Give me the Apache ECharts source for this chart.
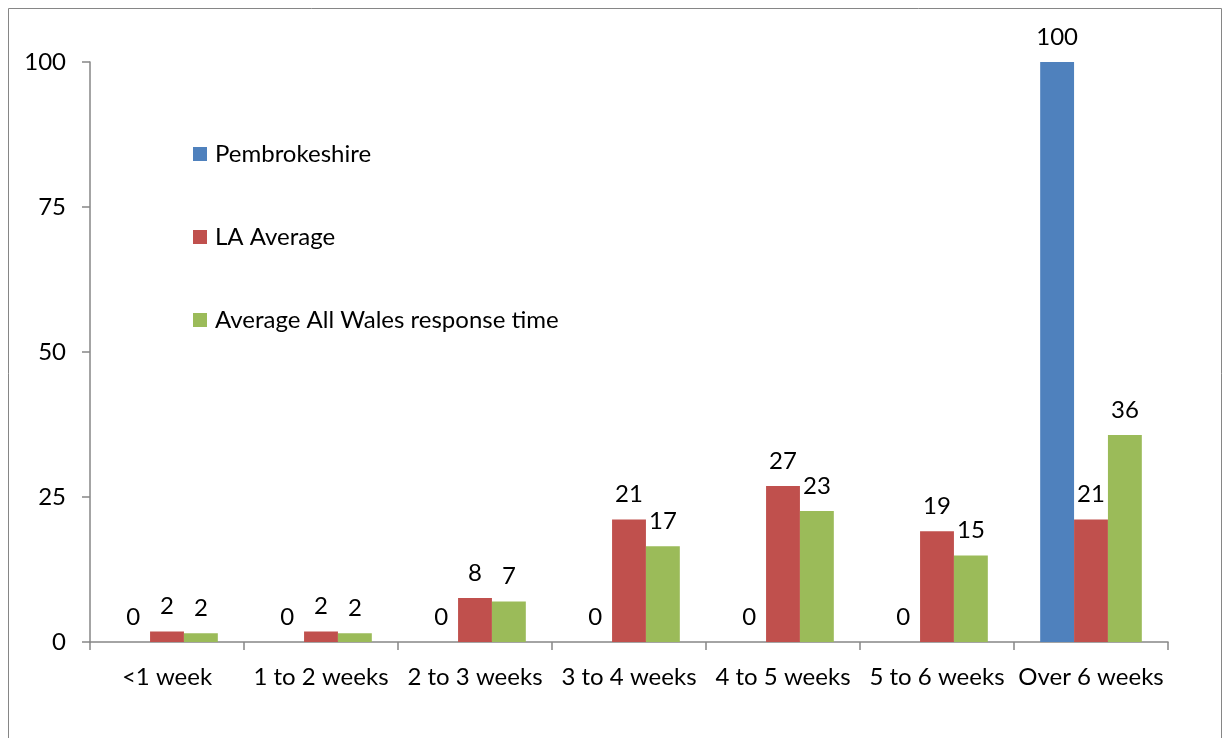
<!DOCTYPE html>
<html>
<head>
<meta charset="utf-8">
<script src="https://cdn.jsdelivr.net/npm/echarts@6/dist/echarts.min.js"></script>
<style>
  html, body { margin: 0; padding: 0; background: #fff; }
  #chart { width: 1223px; height: 738px; }
</style>
</head>
<body>
<div id="chart"></div>
<script>
// Response time bands (% of responses)
const categories = ['<1 week', '1 to 2 weeks', '2 to 3 weeks', '3 to 4 weeks', '4 to 5 weeks', '5 to 6 weeks', 'Over 6 weeks'];
const pembrokeshire = [0, 0, 0, 0, 0, 0, 100];
const laAverage = [1.8, 1.8, 7.6, 21.1, 26.9, 19.1, 21.1];
const allWales = [1.5, 1.5, 7.0, 16.5, 22.6, 14.9, 35.7];
const yTicks = [0, 25, 50, 75, 100];

const FONT = 'Lato, "Open Sans", sans-serif';
const FONT_SIZE = 24;
const AXIS_GREY = '#868686';

function barSeries(name, data, color) {
  return {
    name: name,
    type: 'bar',
    data: data,
    barGap: '0%',
    barCategoryGap: '34%',
    itemStyle: { color: color },
    label: {
      show: true,
      position: 'top',
      distance: 13,
      color: '#000',
      fontFamily: FONT,
      fontSize: FONT_SIZE,
      formatter: p => String(Math.round(p.value))
    }
  };
}

const chart = echarts.init(document.getElementById('chart'), null, { renderer: 'canvas' });
chart.setOption({
  backgroundColor: '#fff',
  animation: false,
  textStyle: { fontFamily: FONT },
  graphic: [{
    type: 'rect',
    shape: { x: 8.5, y: 8.5, width: 1213, height: 760 },
    style: { fill: 'none', stroke: AXIS_GREY, lineWidth: 1 },
    silent: true
  }],
  grid: { left: 90, right: 55, top: 62, bottom: 96, containLabel: false },
  legend: {
    orient: 'vertical',
    left: 193,
    top: 142,
    padding: 0,
    itemWidth: 14,
    itemHeight: 14,
    itemGap: 59,
    icon: 'rect',
    textStyle: { color: '#000', fontFamily: FONT, fontSize: FONT_SIZE, lineHeight: 24, padding: [0, 0, 0, 3] },
    data: ['Pembrokeshire', 'LA Average', 'Average All Wales response time']
  },
  xAxis: {
    type: 'category',
    data: categories,
    boundaryGap: true,
    axisLine: { lineStyle: { color: AXIS_GREY, width: 1.5 } },
    axisTick: { show: true, length: 8, inside: false, lineStyle: { color: AXIS_GREY, width: 1.5 } },
    axisLabel: { color: '#000', fontFamily: FONT, fontSize: FONT_SIZE, margin: 23, interval: 0 }
  },
  yAxis: {
    type: 'value',
    min: yTicks[0],
    max: yTicks[yTicks.length - 1],
    interval: yTicks[1] - yTicks[0],
    axisLine: { show: true, lineStyle: { color: AXIS_GREY, width: 1.5 } },
    axisTick: { show: true, length: 8, lineStyle: { color: AXIS_GREY, width: 1.5 } },
    splitLine: { show: false },
    axisLabel: { color: '#000', fontFamily: FONT, fontSize: FONT_SIZE, margin: 24 }
  },
  series: [
    barSeries('Pembrokeshire', pembrokeshire, '#4F81BD'),
    barSeries('LA Average', laAverage, '#C0504D'),
    barSeries('Average All Wales response time', allWales, '#9BBB59')
  ]
});
</script>
</body>
</html>
